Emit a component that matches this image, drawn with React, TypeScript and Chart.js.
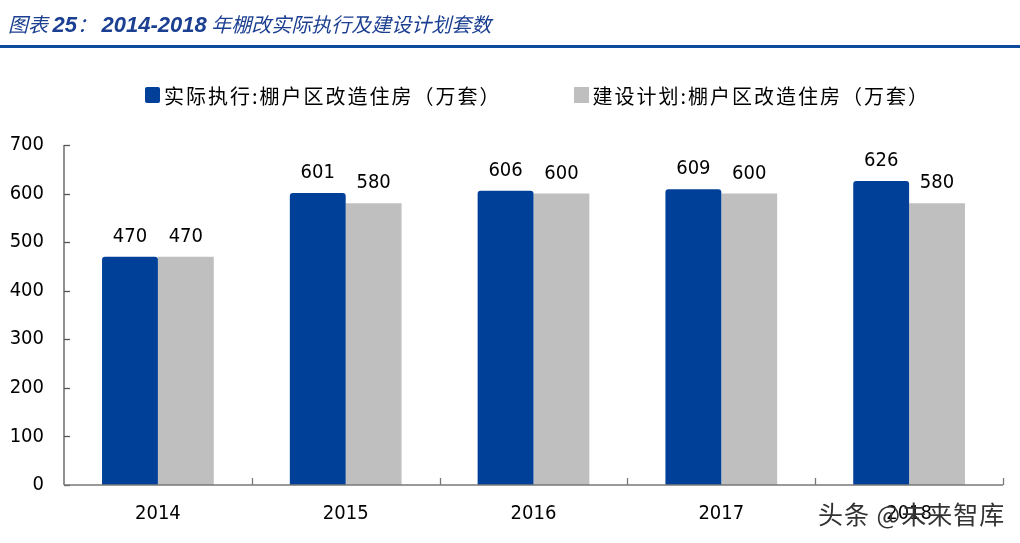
import React, { useEffect, useRef } from "react";
import { Chart, registerables } from "chart.js";

Chart.register(...registerables);

const categories = ["2014", "2015", "2016", "2017", "2018"];
const actualValues = [470, 601, 606, 609, 626];
const planValues = [470, 580, 600, 600, 580];
const yTicks = [0, 100, 200, 300, 400, 500, 600, 700];
const seriesNames = ["实际执行:棚户区改造住房（万套）", "建设计划:棚户区改造住房（万套）"];
const colors = ["#004098", "#bfbfbf"];

const NUM_FONT = "'DejaVu Sans Condensed', 'Liberation Sans', sans-serif";

const axisPlugin = {
  id: "customAxes",
  afterDraw(chart: any) {
    const { ctx, chartArea } = chart;
    const x = chart.scales.x;
    const y = chart.scales.y;
    ctx.save();
    ctx.strokeStyle = "#555555";
    ctx.lineWidth = 1.3;
    ctx.beginPath();
    ctx.moveTo(chartArea.left, y.getPixelForValue(700));
    ctx.lineTo(chartArea.left, y.getPixelForValue(0));
    ctx.stroke();
    yTicks.forEach((v) => {
      const py = Math.round(y.getPixelForValue(v)) + 0.5;
      ctx.beginPath();
      ctx.moveTo(chartArea.left, py);
      ctx.lineTo(chartArea.left + 6, py);
      ctx.stroke();
    });
    ctx.strokeStyle = "#777777";
    const by = y.getPixelForValue(0);
    ctx.beginPath();
    ctx.moveTo(chartArea.left, by);
    ctx.lineTo(chartArea.right, by);
    ctx.stroke();
    const n = categories.length;
    const w = (x.right - x.left) / n;
    for (let i = 1; i <= n; i++) {
      const px = Math.round(x.left + i * w) + 0.5;
      ctx.beginPath();
      ctx.moveTo(px, by);
      ctx.lineTo(px, by - 7);
      ctx.stroke();
    }
    ctx.restore();
  },
};

const labelPlugin = {
  id: "valueLabels",
  afterDatasetsDraw(chart: any) {
    const { ctx } = chart;
    ctx.save();
    ctx.font = `20px ${NUM_FONT}`;
    ctx.fillStyle = "#000000";
    ctx.textAlign = "center";
    ctx.textBaseline = "alphabetic";
    chart.data.datasets.forEach((ds: any, di: number) => {
      const meta = chart.getDatasetMeta(di);
      meta.data.forEach((el: any, i: number) => {
        ctx.fillText(String(ds.data[i]), el.x, el.y - 15);
      });
    });
    ctx.restore();
  },
};

export default function App() {
  const ref = useRef<HTMLCanvasElement>(null);
  useEffect(() => {
    if (!ref.current) return;
    const chart = new Chart(ref.current, {
      type: "bar",
      data: {
        labels: categories,
        datasets: [
          {
            label: seriesNames[0],
            data: actualValues,
            backgroundColor: colors[0],
            borderRadius: { topLeft: 3, topRight: 3, bottomLeft: 0, bottomRight: 0 },
            borderSkipped: false,
            categoryPercentage: 0.595,
            barPercentage: 1.0,
          },
          {
            label: seriesNames[1],
            data: planValues,
            backgroundColor: colors[1],
            categoryPercentage: 0.595,
            barPercentage: 1.0,
          },
        ],
      },
      options: {
        animation: false,
        responsive: false,
        maintainAspectRatio: false,
        layout: { padding: { left: 0, top: 145, right: 17, bottom: 0 } },
        plugins: {
          legend: { display: false },
          title: { display: false },
          tooltip: { enabled: false },
        },
        scales: {
          x: {
            grid: { display: false, drawTicks: false },
            border: { display: false },
            ticks: {
              padding: 17,
              color: "#000000",
              font: { family: NUM_FONT, size: 20 },
            },
            afterFit: (s: any) => {
              s.height = 58;
            },
          },
          y: {
            min: 0,
            max: 700,
            grid: { display: false, drawTicks: false },
            border: { display: false },
            ticks: {
              stepSize: 100,
              padding: 20,
              color: "#000000",
              font: { family: NUM_FONT, size: 20 },
            },
            afterFit: (s: any) => {
              s.width = 64;
            },
          },
        },
      },
      plugins: [axisPlugin, labelPlugin],
    });
    return () => chart.destroy();
  }, []);

  const cjk = "'Noto Sans CJK SC', sans-serif";
  const num = { fontFamily: "'Liberation Sans', sans-serif", fontSize: 22 };
  return (
    <div style={{ position: "fixed", left: 0, top: 0, width: 1020, height: 543, background: "#fff", overflow: "hidden" }}>
      <canvas ref={ref} width={1020} height={543} style={{ position: "absolute", left: 0, top: 0 }} />
      <div
        style={{
          position: "absolute",
          left: 8,
          top: 12,
          lineHeight: "24px",
          fontSize: 20,
          fontStyle: "italic",
          color: "#1b3f91",
          fontFamily: cjk,
          whiteSpace: "nowrap",
        }}
      >
        图表 <b style={num}>25</b>： <b style={num}>2014-2018</b> 年棚改实际执行及建设计划套数
      </div>
      <div style={{ position: "absolute", left: 0, top: 45, width: 1020, height: 3, background: "#0b4a9d" }} />
      <div
        style={{
          position: "absolute",
          left: 145,
          top: 82,
          height: 26,
          display: "flex",
          alignItems: "center",
          fontFamily: cjk,
          fontSize: 20,
          color: "#000",
          whiteSpace: "nowrap",
          letterSpacing: 2,
        }}
      >
        <span style={{ display: "inline-block", width: 15, height: 16, background: colors[0], borderRadius: 2, marginRight: 4 }} />
        <span>{seriesNames[0]}</span>
        <span style={{ display: "inline-block", width: 15, height: 16, background: colors[1], marginLeft: 72, marginRight: 4 }} />
        <span>{seriesNames[1]}</span>
      </div>
      <div
        style={{
          position: "absolute",
          left: 818,
          top: 498,
          fontFamily: cjk,
          fontSize: 25,
          letterSpacing: 1,
          color: "#333",
          whiteSpace: "nowrap",
          lineHeight: "30px",
        }}
      >
        头条 @未来智库
      </div>
    </div>
  );
}
